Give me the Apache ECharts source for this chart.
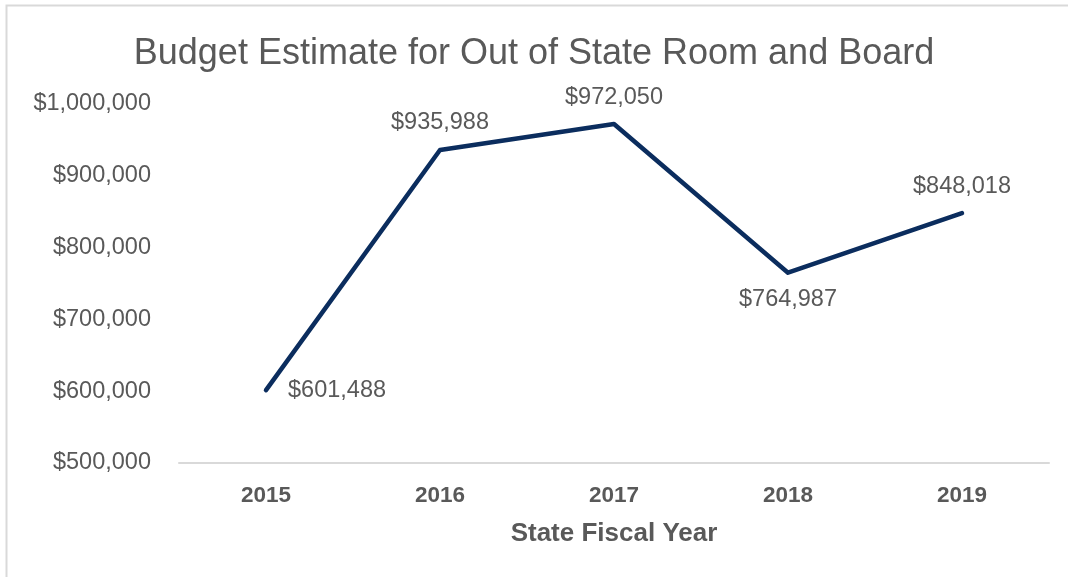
<!DOCTYPE html>
<html>
<head>
<meta charset="utf-8">
<script src="https://cdn.jsdelivr.net/npm/echarts@6/dist/echarts.min.js"></script>
<style>
  html, body { margin: 0; padding: 0; background: #fff; }
  #chart { width: 1068px; height: 577px; }
</style>
</head>
<body>
<div id="chart"></div>
<script>
const years = ['2015', '2016', '2017', '2018', '2019'];
const budget = [601488, 935988, 972050, 764987, 848018];
const labelSides = ['right', 'top', 'top', 'bottom', 'top'];

const chart = echarts.init(document.getElementById('chart'));
const money = v => '$' + Math.round(v).toLocaleString('en-US');

const option = {
  animation: false,
  backgroundColor: '#fff',
  textStyle: { fontFamily: 'Liberation Sans, Arial, sans-serif' },
  graphic: [{
    type: 'rect',
    shape: { x: 6.5, y: 5.5, width: 1100, height: 600 },
    style: { fill: 'none', stroke: '#d9d9d9', lineWidth: 2 }
  }],
  title: {
    text: 'Budget Estimate for Out of State Room and Board',
    left: 'center',
    top: 31,
    textStyle: { fontSize: 36, fontWeight: 'normal', color: '#595959' }
  },
  grid: { left: 179, right: 19, top: 104, bottom: 114 },
  xAxis: {
    type: 'category',
    data: years,
    boundaryGap: true,
    name: 'State Fiscal Year',
    nameLocation: 'middle',
    nameGap: 58,
    nameTextStyle: { fontSize: 26, fontWeight: 'bold', color: '#595959' },
    axisLine: { lineStyle: { color: '#d9d9d9', width: 2 } },
    axisTick: { show: false },
    axisLabel: { fontSize: 22.5, fontWeight: 'bold', color: '#595959', margin: 21 }
  },
  yAxis: {
    type: 'value',
    min: 500000,
    max: 1000000,
    interval: 100000,
    splitLine: { show: false },
    axisLine: { show: false },
    axisTick: { show: false },
    axisLabel: { fontSize: 23.5, color: '#595959', margin: 28, formatter: money }
  },
  series: [{
    type: 'line',
    data: budget.map((v, i) => ({
      value: v,
      label: { show: true, position: labelSides[i], distance: i === 0 ? 21 : 14 }
    })),
    showSymbol: true,
    symbol: 'circle',
    symbolSize: 2,
    itemStyle: { color: 'rgba(0,0,0,0)', borderWidth: 0 },
    lineStyle: { color: '#0b2d5e', width: 4.5, cap: 'round', join: 'round' },
    label: {
      show: true,
      fontSize: 23.5,
      color: '#595959',
      formatter: p => money(p.value)
    }
  }]
};

chart.setOption(option);
</script>
</body>
</html>
